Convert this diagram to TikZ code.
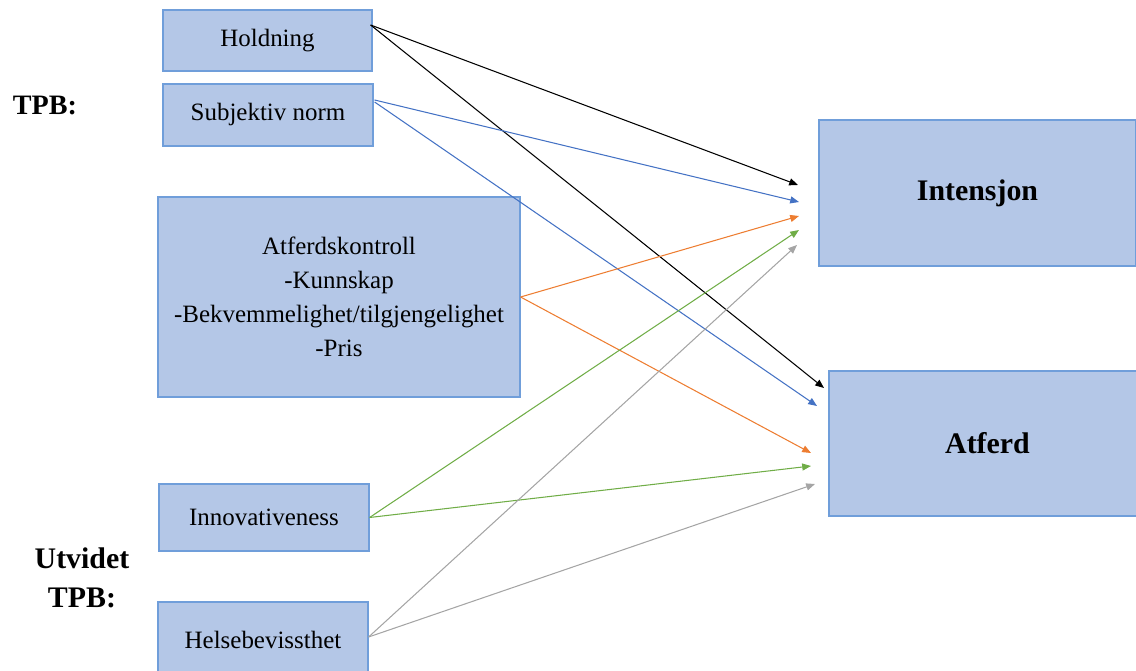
\documentclass[tikz,border=0pt]{standalone}
\usepackage{fontspec}
\setmainfont{Liberation Serif}
\usetikzlibrary{positioning,calc}
\usetikzlibrary{arrows.meta}
\definecolor{BoxFill}{RGB}{180,199,231}
\definecolor{BoxLine}{RGB}{112,158,218}
\definecolor{ArrBlue}{RGB}{68,114,196}
\definecolor{ArrOrange}{RGB}{237,125,49}
\definecolor{ArrGreen}{RGB}{112,173,71}
\definecolor{ArrGray}{RGB}{165,165,165}
\tikzset{
  factor/.style={draw=BoxLine,fill=BoxFill,line width=0.7pt,inner sep=0pt,align=center,
    font=\fontsize{14.2}{19.3}\selectfont},
  outcome/.style={factor,font=\fontsize{17}{20}\selectfont\bfseries},
  grp/.style={align=center,font=\fontsize{16}{21.5}\selectfont\bfseries},
}
\tikzset{link/.style={line width=0.6pt,-{Triangle[length=5pt,width=4pt]}}}

\begin{document}
\begin{tikzpicture}[x=0.02cm,y=-0.02cm]
\useasboundingbox (0,0) rectangle (1136,671);
% left side
\node[factor,minimum width=4.18cm,minimum height=1.22cm] (hold) at (267.5,40.5) {Holdning};
\node[factor,minimum width=4.2cm,minimum height=1.24cm] (subj) at (268,115) {Subjektiv norm};
\node[factor,minimum width=7.24cm,minimum height=4cm] (ctrl) at (339,297)
  {Atferdskontroll\\-Kunnskap\\-Bekvemmelighet/tilgjengelighet\\-Pris};
\node[factor,minimum width=4.2cm,minimum height=1.34cm] (innov) at (264,517.5) {Innovativeness};
\node[factor,minimum width=4.2cm,minimum height=1.52cm] (helse) at (263,640) {Helsebevissthet};
\node[grp] (tpb) at (45,106) {TPB:};
\node[grp,font=\fontsize{17}{22}\selectfont\bfseries] (utv) at (82,578) {Utvidet\\TPB:};
% right side
\node[outcome,minimum width=6.34cm,minimum height=2.92cm] (intens) at (977.5,193) {Intensjon};
\node[outcome,minimum width=6.34cm,minimum height=2.9cm] (atferd) at (987.5,443.5) {Atferd};
% arrow tips
\coordinate (i1) at (798,185);
\coordinate (i2) at (799,202);
\coordinate (i3) at (799,216);
\coordinate (i4) at (799,230);
\coordinate (i5) at (797,245);
\coordinate (a1) at (824,388);
\coordinate (a2) at (817,406);
\coordinate (a3) at (811,453);
\coordinate (a4) at (811,466);
\coordinate (a5) at (815,484);
% arrows
\draw[link] ($(hold.east)+(-2,-15.5)$) -- (i1);
\draw[link] ($(hold.east)+(-2,-15.5)$) -- (a1);
\draw[link,ArrBlue] ($(subj.east)+(1,-15)$) -- (i2);
\draw[link,ArrBlue] ($(subj.east)+(1,-13)$) -- (a2);
\draw[link,ArrOrange] (ctrl.east) -- (i3);
\draw[link,ArrOrange] (ctrl.east) -- (a3);
\draw[link,ArrGreen] (innov.east) -- (i4);
\draw[link,ArrGreen] (innov.east) -- (a4);
\draw[link,ArrGray] ($(helse.east)+(0,-3)$) -- (i5);
\draw[link,ArrGray] ($(helse.east)+(0,-3)$) -- (a5);
\end{tikzpicture}
\end{document}
